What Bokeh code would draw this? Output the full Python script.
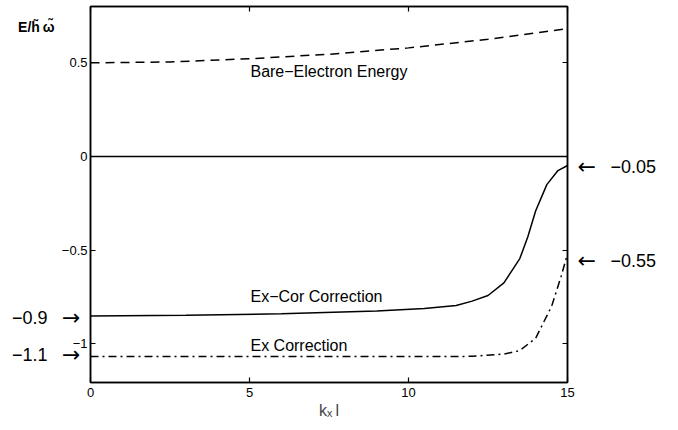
from bokeh.plotting import figure
from bokeh.models import Range1d, LinearAxis, FixedTicker, Label
from bokeh.embed import file_html
from bokeh.resources import INLINE

# ---- data ----
bare_k = [0, 2.5, 5, 7.5, 10, 12.5, 15]
bare_e = [0.500, 0.505, 0.522, 0.546, 0.580, 0.626, 0.683]

zero_k = [0, 15]
zero_e = [0, 0]

excor_k = [0, 3, 6, 9, 10.5, 11.5, 12, 12.5, 13, 13.5, 13.75, 14, 14.35, 14.7, 15]
excor_e = [-0.852, -0.847, -0.840, -0.825, -0.812, -0.795, -0.772, -0.742,
           -0.675, -0.545, -0.43, -0.29, -0.15, -0.075, -0.048]

ex_k = [0, 5, 10, 12, 13, 13.5, 14, 14.5, 14.8, 15]
ex_e = [-1.068, -1.068, -1.068, -1.067, -1.055, -1.036, -0.97, -0.80, -0.64, -0.52]

x_ticks = [0, 5, 10, 15]
y_ticks = [-1, -0.5, 0, 0.5]
y_tick_labels = {-1: "\u22121", -0.5: "\u22120.5", 0: "0", 0.5: "0.5"}

# annotations beside the axes (value positions and texts)
left_note_pos = [-1.057, -0.862]
left_note_txt = {-1.057: "\u22121.1", -0.862: "\u22120.9"}
right_note_pos = [-0.555, -0.055]
right_note_txt = {-0.555: "\u22120.55", -0.055: "\u22120.05"}
ylabel_pos = [0.689]
ylabel_txt = {0.689: "E/h\u0303\u2009\u03c9\u0303"}

FONT = "Liberation Sans"
ARROW_FONT = "DejaVu Sans"

p = figure(width=670, height=428, output_backend="svg", toolbar_location=None,
           x_range=Range1d(0, 15), y_range=Range1d(-1.2066, 0.8009),
           min_border_left=90, min_border_right=103, min_border_top=6,
           min_border_bottom=46)
p.grid.visible = False
p.background_fill_color = "white"
p.border_fill_color = "white"
p.outline_line_color = "black"
p.outline_line_width = 1.5

bottom = p.below[0]
left = p.left[0]

top = LinearAxis(ticker=FixedTicker(ticks=[], minor_ticks=x_ticks))
right_arrows = LinearAxis(ticker=FixedTicker(ticks=right_note_pos, minor_ticks=y_ticks))
right_nums = LinearAxis(ticker=FixedTicker(ticks=right_note_pos))
left_arrows = LinearAxis(ticker=FixedTicker(ticks=left_note_pos))
left_ylab = LinearAxis(ticker=FixedTicker(ticks=ylabel_pos))
left_nums = LinearAxis(ticker=FixedTicker(ticks=left_note_pos))
p.add_layout(top, "above")
p.add_layout(right_arrows, "right")
p.add_layout(right_nums, "right")
p.add_layout(left_arrows, "left")
p.add_layout(left_ylab, "left")
p.add_layout(left_nums, "left")

bottom.ticker = FixedTicker(ticks=x_ticks)
left.ticker = FixedTicker(ticks=y_ticks)

all_axes = (bottom, left, top, right_arrows, right_nums, left_arrows, left_ylab, left_nums)
for ax in all_axes:
    ax.axis_line_color = "black"
    ax.axis_line_width = 1.5
    ax.major_tick_in = 5
    ax.major_tick_out = 0
    ax.major_tick_line_width = 1.2
    ax.minor_tick_in = 5
    ax.minor_tick_out = 0
    ax.minor_tick_line_width = 1.2
    ax.minor_tick_line_color = "black"
    ax.major_label_text_font = FONT
    ax.major_label_text_font_size = "13px"
    ax.major_label_text_color = "black"

bottom.minor_tick_line_color = None
left.minor_tick_line_color = None
top.major_label_standoff = 0

bottom.major_label_standoff = 5
left.major_label_standoff = 3
left.major_label_overrides = y_tick_labels

bottom.axis_label = "k\u2093\u2009l"
bottom.axis_label_text_font = FONT
bottom.axis_label_text_font_size = "16px"
bottom.axis_label_text_font_style = "normal"
bottom.axis_label_standoff = 2

# text-only axes: no line, no tick marks
for ax in (right_nums, left_arrows, left_ylab, left_nums):
    ax.axis_line_color = None
    ax.major_tick_line_color = None
    ax.minor_tick_line_color = None

right_arrows.major_tick_line_color = None
right_arrows.major_label_overrides = {v: "\u2190" for v in right_note_pos}
right_arrows.major_label_text_font = ARROW_FONT
right_arrows.major_label_text_font_size = "22px"
right_arrows.major_label_standoff = 10

right_nums.major_label_overrides = right_note_txt
right_nums.major_label_text_font_size = "18px"
right_nums.major_label_standoff = 12

left_arrows.major_label_overrides = {v: "\u2192" for v in left_note_pos}
left_arrows.major_label_text_font = ARROW_FONT
left_arrows.major_label_text_font_size = "22px"
left_arrows.major_label_standoff = -22

left_ylab.major_label_overrides = ylabel_txt
left_ylab.major_label_text_font_size = "14px"
left_ylab.major_label_text_font_style = "bold"
left_ylab.major_label_standoff = 4

left_nums.major_label_overrides = left_note_txt
left_nums.major_label_text_font_size = "18px"
left_nums.major_label_standoff = -32

# curves
p.line(bare_k, bare_e, line_color="black", line_width=1.5, line_dash="9 6")
p.line(zero_k, zero_e, line_color="black", line_width=1.5)
p.line(excor_k, excor_e, line_color="black", line_width=1.5)
p.line(ex_k, ex_e, line_color="black", line_width=1.5, line_dash="8 4 2 4")


def lab(x, y, text, size="16px"):
    p.add_layout(Label(x=x, y=y, text=text, text_font=FONT,
                       text_font_size=size, text_align="left",
                       text_baseline="middle", text_color="black"))


lab(5.03, 0.454, "Bare\u2212Electron Energy")
lab(5.03, -0.75, "Ex\u2212Cor Correction")
lab(5.03, -1.009, "Ex Correction")

open("out.html", "w").write(file_html(p, INLINE))
